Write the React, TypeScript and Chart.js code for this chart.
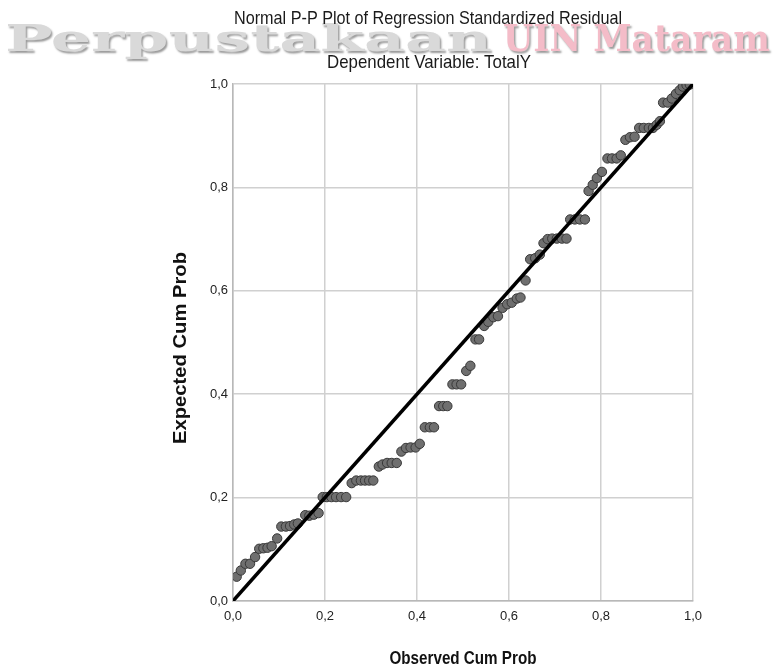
import React, { useEffect, useRef } from "react";
import { Chart, registerables } from "chart.js";

Chart.register(...registerables);

const observedCumProb = [
  0.008, 0.017, 0.027, 0.037, 0.048, 0.057, 0.066, 0.075, 0.084, 0.096,
  0.105, 0.115, 0.124, 0.133, 0.141, 0.157, 0.166, 0.176, 0.186, 0.195,
  0.204, 0.214, 0.224, 0.235, 0.246, 0.258, 0.268, 0.278, 0.287, 0.296,
  0.305, 0.317, 0.325, 0.335, 0.345, 0.356, 0.366, 0.376, 0.386, 0.397,
  0.406, 0.417, 0.428, 0.437, 0.448, 0.457, 0.466, 0.477, 0.486, 0.496,
  0.507, 0.516, 0.527, 0.535, 0.546, 0.555, 0.566, 0.576, 0.586, 0.596,
  0.606, 0.617, 0.625, 0.636, 0.646, 0.657, 0.667, 0.675, 0.684, 0.694,
  0.704, 0.715, 0.725, 0.733, 0.743, 0.754, 0.765, 0.773, 0.782, 0.791,
  0.802, 0.814, 0.824, 0.834, 0.843, 0.853, 0.863, 0.873, 0.883, 0.893,
  0.904, 0.913, 0.921, 0.928, 0.935, 0.945, 0.954, 0.963, 0.971, 0.978,
  0.986, 0.993,
];

const expectedCumProb = [
  0.047, 0.059, 0.072, 0.072, 0.085, 0.101, 0.102, 0.103, 0.106, 0.121,
  0.144, 0.144, 0.145, 0.148, 0.150, 0.166, 0.165, 0.167, 0.170, 0.201,
  0.201, 0.201, 0.201, 0.201, 0.201, 0.228, 0.233, 0.233, 0.233, 0.233,
  0.233, 0.260, 0.264, 0.267, 0.267, 0.267, 0.289, 0.296, 0.297, 0.297,
  0.304, 0.336, 0.336, 0.336, 0.377, 0.377, 0.377, 0.419, 0.419, 0.419,
  0.445, 0.455, 0.506, 0.506, 0.532, 0.540, 0.549, 0.551, 0.567, 0.574,
  0.577, 0.585, 0.587, 0.620, 0.661, 0.663, 0.670, 0.692, 0.700, 0.701,
  0.701, 0.701, 0.701, 0.738, 0.738, 0.738, 0.738, 0.793, 0.805, 0.818,
  0.830, 0.856, 0.856, 0.856, 0.862, 0.892, 0.897, 0.898, 0.915, 0.915,
  0.915, 0.915, 0.921, 0.928, 0.964, 0.964, 0.972, 0.981, 0.988, 0.995,
  0.998, 0.999,
];

const referenceLineX = [0, 1];
const referenceLineY = [0, 1];

const axisMin = 0;
const axisMax = 1;
const axisStep = 0.2;

const titleText = "Normal P-P Plot of Regression Standardized Residual";
const subtitleText = "Dependent Variable: TotalY";
const xAxisTitle = "Observed Cum Prob";
const yAxisTitle = "Expected Cum Prob";
const watermarkGrey = "Perpustakaan";
const watermarkPink = "UIN Mataram";

const FONT = "'Liberation Sans', Arial, sans-serif";

function drawScaled(
  ctx: CanvasRenderingContext2D,
  text: string,
  x: number,
  y: number,
  sx: number,
  sy: number,
  rotate: number
) {
  ctx.save();
  ctx.translate(x, y);
  ctx.rotate(rotate);
  ctx.scale(sx, sy);
  ctx.fillText(text, 0, 0);
  ctx.restore();
}

function drawFitted(
  ctx: CanvasRenderingContext2D,
  text: string,
  x: number,
  y: number,
  targetW: number,
  sy: number,
  rotate: number
) {
  const w = ctx.measureText(text).width;
  drawScaled(ctx, text, x, y, targetW / w, sy, rotate);
}

const overlayPlugin = {
  id: "overlayText",
  beforeDraw(chart: any) {
    const ctx = chart.ctx as CanvasRenderingContext2D;
    // watermark
    ctx.save();
    ctx.font = "bold 37px 'DejaVu Serif', serif";
    ctx.textBaseline = "alphabetic";
    ctx.textAlign = "left";
    ctx.shadowColor = "rgba(0,0,0,0.4)";
    ctx.shadowOffsetX = 1.5;
    ctx.shadowOffsetY = 1.5;
    ctx.shadowBlur = 2;
    ctx.fillStyle = "#d9d9d9";
    drawFitted(ctx, watermarkGrey, 5, 51, 487, 1, 0);
    ctx.fillStyle = "#f4bcc8";
    drawFitted(ctx, watermarkPink, 503, 51, 267, 1, 0);
    ctx.restore();

    ctx.save();
    ctx.fillStyle = "#1a1a1a";
    ctx.textAlign = "center";
    ctx.textBaseline = "middle";
    ctx.font = `16px ${FONT}`;
    const sx = 388 / ctx.measureText(titleText).width;
    drawScaled(ctx, titleText, 428, 19, sx, 1.12, 0);
    drawScaled(ctx, subtitleText, 429, 63, sx * 1.04, 1.12, 0);
    ctx.restore();
  },
  afterDraw(chart: any) {
    const ctx = chart.ctx as CanvasRenderingContext2D;
    const area = chart.chartArea;
    ctx.save();
    ctx.fillStyle = "#111";
    ctx.textAlign = "center";
    ctx.textBaseline = "middle";
    ctx.font = `bold 16px ${FONT}`;
    drawScaled(ctx, xAxisTitle, (area.left + area.right) / 2, 659, 0.95, 1.12, 0);
    ctx.font = `bold 17px ${FONT}`;
    drawFitted(ctx, yAxisTitle, 181, 348, 192, 1.1, -Math.PI / 2);
    ctx.restore();
  },
};

export default function App() {
  const canvasRef = useRef<HTMLCanvasElement | null>(null);

  useEffect(() => {
    const canvas = canvasRef.current;
    if (!canvas) return;
    const points = observedCumProb.map((x, i) => ({ x, y: expectedCumProb[i] }));
    const linePts = referenceLineX.map((x, i) => ({ x, y: referenceLineY[i] }));
    const fmt = (v: any) => Number(v).toFixed(1).replace(".", ",");

    const chart = new Chart(canvas, {
      type: "scatter",
      data: {
        datasets: [
          {
            type: "line",
            data: linePts,
            borderColor: "#000000",
            borderWidth: 3.5,
            pointRadius: 0,
            fill: false,
            order: 0,
          } as any,
          {
            type: "scatter",
            data: points,
            pointRadius: 4.7,
            pointBackgroundColor: "#6f6f6f",
            pointBorderColor: "#383838",
            pointBorderWidth: 1,
            order: 1,
          } as any,
        ],
      },
      options: {
        responsive: false,
        animation: false,
        layout: { padding: { top: 84, right: 81, bottom: 0, left: 0 } },
        plugins: {
          legend: { display: false },
          tooltip: { enabled: false },
          title: { display: false },
        },
        scales: {
          x: {
            type: "linear",
            min: axisMin,
            max: axisMax,
            afterFit: (s: any) => {
              s.height = 69;
            },
            ticks: {
              stepSize: axisStep,
              callback: fmt,
              color: "#222",
              font: { family: FONT, size: 13 },
              padding: 8,
              maxRotation: 0,
            },
            grid: { color: "#d0d0d0", lineWidth: 1.5, drawTicks: false },
            border: { color: "#b8b8b8", width: 1.5 },
          },
          y: {
            type: "linear",
            min: axisMin,
            max: axisMax,
            afterFit: (s: any) => {
              s.width = 233;
            },
            ticks: {
              stepSize: axisStep,
              callback: fmt,
              color: "#222",
              font: { family: FONT, size: 13 },
              padding: 5,
            },
            grid: { color: "#d0d0d0", lineWidth: 1.5, drawTicks: false },
            border: { color: "#b8b8b8", width: 1.5 },
          },
        },
      },
      plugins: [overlayPlugin],
    });
    return () => chart.destroy();
  }, []);

  return (
    <div style={{ position: "absolute", left: 0, top: 0, width: 774, height: 670, background: "#fff" }}>
      <canvas ref={canvasRef} width={774} height={670} />
    </div>
  );
}
